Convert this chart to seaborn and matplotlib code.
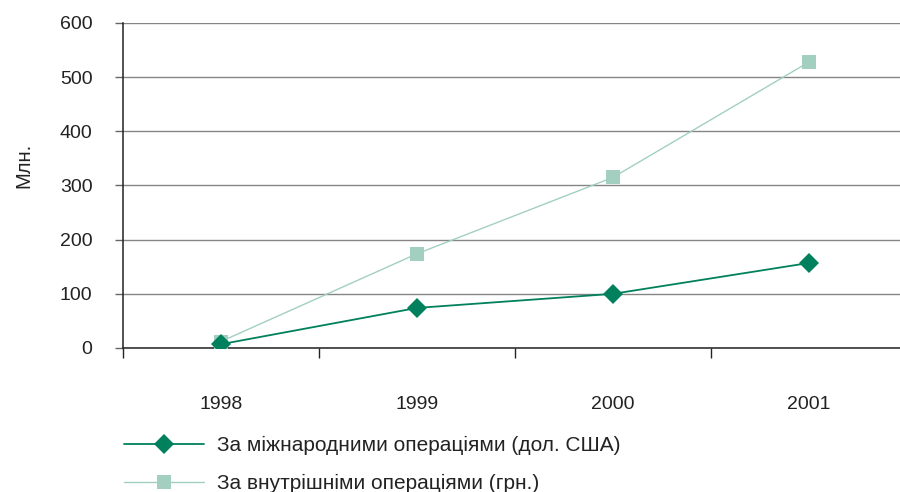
import matplotlib
matplotlib.use("Agg")
import matplotlib.pyplot as plt
import seaborn as sns
import pandas as pd
from matplotlib.ticker import FixedLocator, NullFormatter

# Data: card transaction volumes, millions
years = ["1998", "1999", "2000", "2001"]
intl_usd = [7, 74, 100, 157]
domestic_uah = [12, 174, 315, 528]
series_names = ["За міжнародними операціями (дол. США)",
                "За внутрішніми операціями (грн.)"]
y_ticks = [0, 100, 200, 300, 400, 500, 600]

dark_green = "#00805c"
light_green = "#a3cfc1"

sns.set_theme(style="white")
plt.rcParams["font.family"] = ["Liberation Sans", "DejaVu Sans"]
plt.rcParams["text.color"] = "#222222"

df = pd.DataFrame({
    "year": years * 2,
    "value": intl_usd + domestic_uah,
    "series": [series_names[0]] * len(years) + [series_names[1]] * len(years),
})

fig = plt.figure(figsize=(9, 4.92), dpi=100)
ax = fig.add_axes([123 / 900, 1 - 348 / 492, 784 / 900, 325 / 492])

sns.lineplot(
    data=df, x="year", y="value", hue="series", style="series",
    palette=[dark_green, light_green],
    markers=["D", "s"], dashes=False, ax=ax, legend=False,
    markeredgewidth=0, sort=False,
)
lines = ax.get_lines()
lines[0].set_linewidth(1.3)
lines[0].set_markersize(10)
lines[1].set_linewidth(1.0)
lines[1].set_markersize(10.5)
lines[1].set_zorder(3)
lines[0].set_zorder(4)

ax.set_ylim(0, 600)
ax.set_xlim(-0.5, len(years) - 0.5)
ax.set_yticks(y_ticks)
ax.yaxis.grid(True, color="#858585", linewidth=1.0)
ax.set_axisbelow(True)

# Category ticks sit between years; labels are centred on the years
ax.xaxis.set_major_locator(FixedLocator([i - 0.5 for i in range(len(years) + 1)]))
ax.xaxis.set_major_formatter(NullFormatter())
ax.xaxis.set_minor_locator(FixedLocator(range(len(years))))
ax.set_xticklabels(years, minor=True)
ax.tick_params(axis="x", which="major", length=7, width=1, color="#222222",
               direction="out", bottom=True)
ax.tick_params(axis="x", which="minor", length=0, pad=34.5, labelsize=14,
               labelcolor="#222222", bottom=True)
ax.tick_params(axis="y", length=6, width=1, color="#666666", direction="out",
               pad=16, labelsize=14, labelcolor="#222222", left=True)

for side in ["top", "right"]:
    ax.spines[side].set_visible(False)
for side in ["left", "bottom"]:
    ax.spines[side].set_color("#222222")
    ax.spines[side].set_linewidth(1.1)

ax.set_xlabel("")
ax.set_ylabel("Млн.", fontsize=14.5, color="#222222")
ax.yaxis.set_label_coords(-0.114, 0.563)

handles = [
    plt.Line2D([], [], color=dark_green, linewidth=1.3, marker="D",
               markersize=10.5, markeredgewidth=0),
    plt.Line2D([], [], color=light_green, linewidth=1.0, marker="s",
               markersize=10.5, markeredgewidth=0),
]
fig.legend(handles, series_names, loc="center left",
           bbox_to_anchor=(124 / 900, 1 - 464.5 / 492), frameon=False,
           fontsize=15, handlelength=3.85, handletextpad=0.62,
           labelspacing=0.9, borderpad=0, borderaxespad=0)

fig.savefig("out.png", dpi=100)
